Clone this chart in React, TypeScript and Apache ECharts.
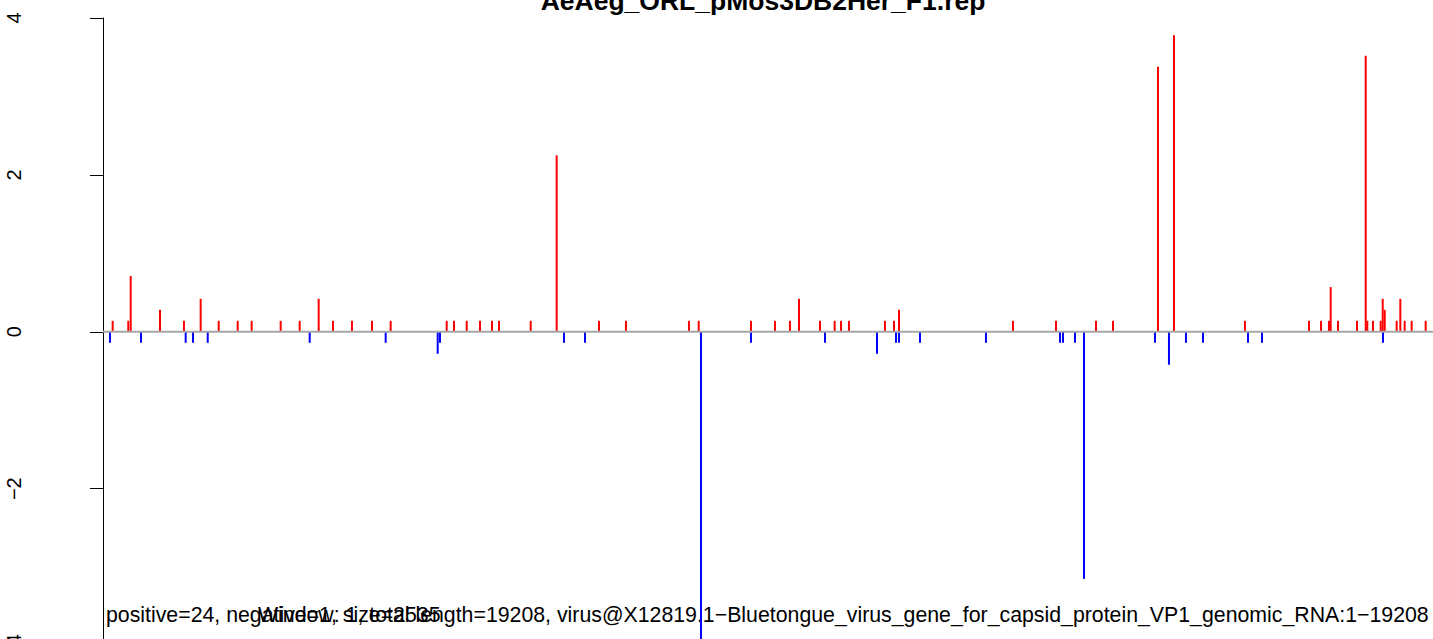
import React, { useEffect, useRef } from "react";
import * as echarts from "echarts";

const titleText = "AeAeg_ORL_pMos3DB2Her_F1.rep";
const footerLeft = "positive=24, negative=1, size=2535";
const footerRight =
  "Window: 1, total length=19208, virus@X12819.1\u2212Bluetongue_virus_gene_for_capsid_protein_VP1_genomic_RNA:1\u221219208";

const yTicks = [-4, -2, 0, 2, 4];

// positive (sense) hits: genome position, value
const posX = [
  140, 366, 401, 825, 1172, 1414, 1675, 1950, 2152, 2572, 2847, 3122, 3329, 3604, 3894, 4164,
  4975, 5081, 5265, 5457, 5631, 5732, 6191, 6567, 7180, 7570, 8482, 8623, 9380, 9727, 9944,
  10075, 10379, 10591, 10683, 10798, 11319, 11450, 11522, 13172, 13795, 14374, 14620, 15271,
  15503, 16530, 17457, 17631, 17746, 17771, 17877, 18152, 18278, 18301, 18383, 18495, 18524,
  18553, 18726, 18779, 18842, 18943, 19146,
];
const posY = [
  0.14, 0.14, 0.71, 0.28, 0.14, 0.42, 0.14, 0.14, 0.14, 0.14, 0.14, 0.42, 0.14, 0.14, 0.14, 0.14,
  0.14, 0.14, 0.14, 0.14, 0.14, 0.14, 0.14, 2.25, 0.14, 0.14, 0.14, 0.14, 0.14, 0.14, 0.14,
  0.42, 0.14, 0.14, 0.14, 0.14, 0.14, 0.14, 0.28, 0.14, 0.14, 0.14, 0.14, 3.38,
  3.78, 0.14, 0.14, 0.14, 0.14, 0.57, 0.14, 0.14, 3.52, 0.14, 0.14, 0.14, 0.42,
  0.28, 0.14, 0.42, 0.14, 0.14, 0.14,
];

// negative (antisense) hits
const negX = [
  101, 550, 1197, 1303, 1516, 2992, 4092, 4845, 4878, 6673, 6977, 8656, 9380, 10451, 11204,
  11479, 11522, 11826, 12781, 13853, 13896, 14070, 14200, 15228, 15430, 15676, 15923, 16574,
  16777, 18528,
];
const negY = [
  -0.14, -0.14, -0.14, -0.14, -0.14, -0.14, -0.14, -0.28, -0.14, -0.14, -0.14, -3.95, -0.14,
  -0.14, -0.28, -0.14, -0.14, -0.14, -0.14, -0.14, -0.14, -0.14, -3.15, -0.14, -0.42, -0.14,
  -0.14, -0.14, -0.14, -0.14,
];

const xMin = -767;
const xMax = 19252;
const zeroLineX = [0, 19252];

const FONT = "'Liberation Sans', Arial, Helvetica, sans-serif";

export default function App() {
  const ref = useRef<HTMLDivElement>(null);
  useEffect(() => {
    if (!ref.current) return;
    const chart = echarts.init(ref.current, null, { renderer: "svg" });
    const option = {
      animation: false,
      backgroundColor: "#ffffff",
      grid: { left: 50, right: 0, top: 18, bottom: 12, containLabel: false },
      xAxis: {
        type: "value",
        min: xMin,
        max: xMax,
        show: false,
      },
      yAxis: {
        type: "value",
        min: yTicks[0],
        max: yTicks[yTicks.length - 1],
        interval: 2,
        axisLine: { show: true, lineStyle: { color: "#000", width: 1 } },
        axisTick: { show: true, inside: false, length: 13, lineStyle: { color: "#000", width: 1 } },
        axisLabel: {
          rotate: 90,
          margin: 26,
          fontSize: 20,
          color: "#000",
          fontFamily: FONT,
          formatter: (v: number) => (v < 0 ? "\u2212" + Math.abs(v) : String(v)),
        },
        splitLine: { show: false },
      },
      series: [
        {
          type: "bar",
          barWidth: 2,
          barGap: "-100%",
          itemStyle: { color: "#ff0000" },
          data: posX.map((x, i) => [x, posY[i]]),
          z: 2,
        },
        {
          type: "bar",
          barWidth: 2,
          barGap: "-100%",
          itemStyle: { color: "#0000ff" },
          data: negX.map((x, i) => [x, negY[i]]),
          z: 2,
        },
        {
          type: "line",
          symbol: "none",
          lineStyle: { color: "#a6a6a6", width: 2 },
          data: zeroLineX.map((x) => [x, 0]),
          z: 5,
        },
      ],
      graphic: [
        {
          type: "text",
          x: 763,
          y: 1,
          style: {
            text: titleText,
            fontSize: 26.5,
            fontWeight: "bold",
            fontFamily: FONT,
            fill: "#000",
            align: "center",
            verticalAlign: "middle",
          },
        },
        {
          type: "text",
          x: 106,
          y: 615,
          style: {
            text: footerLeft,
            fontSize: 21.3,
            fontFamily: FONT,
            fill: "#000",
            align: "left",
            verticalAlign: "middle",
          },
        },
        {
          type: "text",
          x: 258,
          y: 615,
          style: {
            text: footerRight,
            fontSize: 21.3,
            fontFamily: FONT,
            fill: "#000",
            align: "left",
            verticalAlign: "middle",
          },
        },
      ],
    };
    chart.setOption(option);
    return () => chart.dispose();
  }, []);
  return (
    <div
      ref={ref}
      style={{ position: "fixed", left: 0, top: 0, width: 1433, height: 660, background: "#fff" }}
    />
  );
}
